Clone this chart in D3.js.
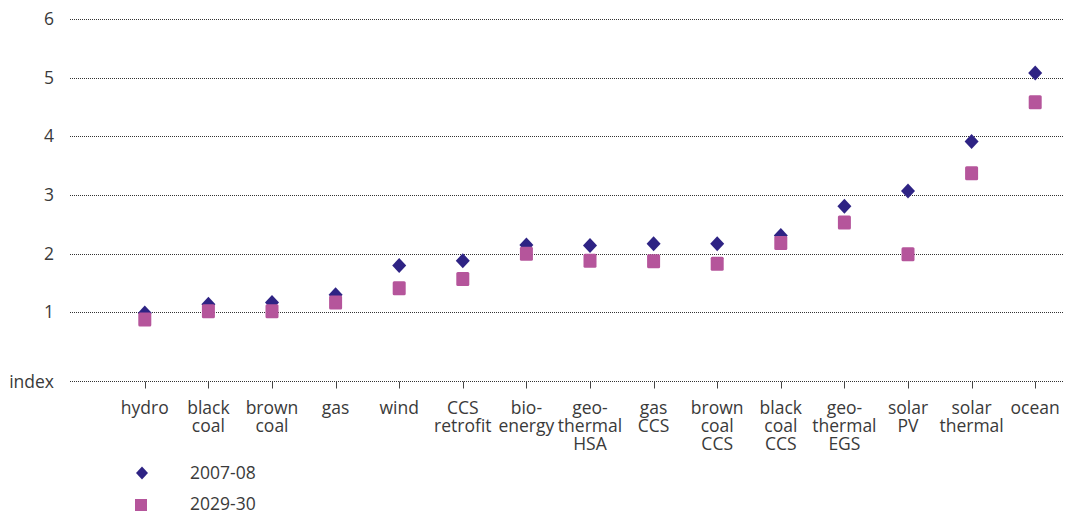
<!DOCTYPE html>
<html><head><meta charset="utf-8">
<script src="https://cdn.jsdelivr.net/npm/d3@7"></script>
<style>
html,body{margin:0;padding:0;background:#fff;}
text{font-family:"Open Sans","Noto Sans",sans-serif;font-weight:400;fill:#3a3a3a;}
</style></head>
<body>
<svg id="chart" width="1073" height="514"></svg>
<script>
const categories = ["hydro","black\ncoal","brown\ncoal","gas","wind","CCS\nretrofit","bio-\nenergy","geo-\nthermal\nHSA","gas\nCCS","brown\ncoal\nCCS","black\ncoal\nCCS","geo-\nthermal\nEGS","solar\nPV","solar\nthermal","ocean"];
const series2007 = [0.99,1.14,1.17,1.30,1.80,1.88,2.15,2.14,2.17,2.17,2.31,2.81,3.07,3.91,5.08];
const series2029 = [0.88,1.02,1.02,1.17,1.41,1.57,2.00,1.88,1.87,1.83,2.18,2.53,1.99,3.37,4.58];
const yTicks = [1,2,3,4,5,6];
const seriesNames = ["2007-08","2029-30"];

const svg = d3.select("#chart");
const x = d3.scaleBand().domain(d3.range(categories.length)).range([113, 1067]);
const y = d3.scaleLinear().domain([-0.17, 6]).range([381, 19]);
const gridL = 70, gridR = 1063;
const fs = 17.5;

svg.append("g").selectAll("line").data(yTicks).join("line")
  .attr("x1", gridL).attr("x2", gridR)
  .attr("y1", d => Math.round(y(d)) + 0.5).attr("y2", d => Math.round(y(d)) + 0.5)
  .attr("stroke", "#333").attr("stroke-width", 1).attr("stroke-dasharray", "1,1");

svg.append("g").selectAll("text").data(yTicks).join("text")
  .attr("x", 54).attr("y", d => y(d)).attr("dy", "0.35em")
  .attr("text-anchor", "end").attr("font-size", fs).text(d => d);

const axisY = Math.round(y(-0.17)) + 0.5;
svg.append("line").attr("x1", gridL).attr("x2", gridR)
  .attr("y1", axisY).attr("y2", axisY)
  .attr("stroke", "#333").attr("stroke-dasharray", "1,1");
svg.append("text").attr("x", 54).attr("y", axisY).attr("dy", "0.35em")
  .attr("text-anchor", "end").attr("font-size", fs).text("index");

const cx = i => x(i) + x.bandwidth() / 2;

svg.append("g").selectAll("line").data(d3.range(categories.length)).join("line")
  .attr("x1", i => Math.round(cx(i)) + 0.5).attr("x2", i => Math.round(cx(i)) + 0.5)
  .attr("y1", axisY).attr("y2", axisY + 7)
  .attr("stroke", "#444").attr("stroke-width", 1);

const labelLines = [];
categories.forEach((c, i) => c.split("\n").forEach((t, j) => labelLines.push({i, j, t})));
svg.append("g").selectAll("text").data(labelLines).join("text")
  .attr("text-anchor", "middle").attr("font-size", fs)
  .attr("x", d => cx(d.i)).attr("y", d => 414 + d.j * 18).text(d => d.t);

const cDia = "#2e2384", cSq = "#b5559b";
const diamondPath = (w, h) => `M0,${-h}L${w},0L0,${h}L${-w},0Z`;

const gDia = svg.append("g");
const gSq = svg.append("g");

gDia.selectAll("path").data(series2007).join("path")
  .attr("d", diamondPath(7, 7.5))
  .attr("transform", (d, i) => `translate(${cx(i)},${y(d)})`)
  .attr("fill", cDia);

gSq.selectAll("rect").data(series2029).join("rect")
  .attr("x", (d, i) => cx(i) - 6.5).attr("y", d => y(d) - 7)
  .attr("width", 13).attr("height", 14).attr("rx", 1.5)
  .attr("fill", cSq);

// legend
svg.append("path").attr("d", diamondPath(6, 6.5)).attr("transform", "translate(142,473)").attr("fill", cDia);
svg.append("text").attr("x", 190).attr("y", 479).attr("font-size", fs).text(seriesNames[0]);
svg.append("rect").attr("x", 135).attr("y", 499).attr("width", 12).attr("height", 12).attr("fill", cSq);
svg.append("text").attr("x", 190).attr("y", 510).attr("font-size", fs).text(seriesNames[1]);
</script>
</body></html>
